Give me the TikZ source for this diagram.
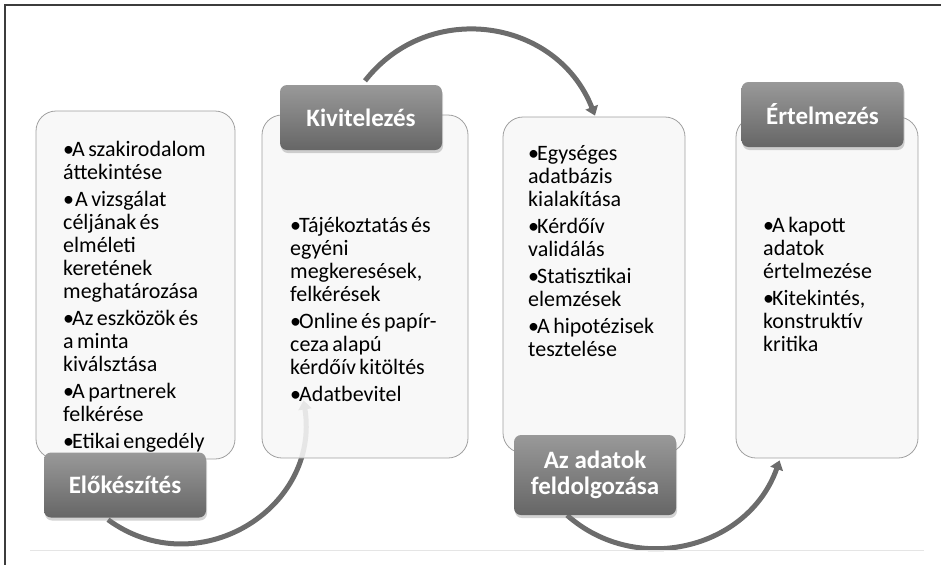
\documentclass[tikz,border=0pt]{standalone}
\usepackage{fontspec}
\setmainfont{Carlito}
\usepackage{tikz}
\usetikzlibrary{positioning,calc,arrows.meta,shadows,backgrounds}

\definecolor{arcgray}{RGB}{108,108,108}
\definecolor{boxline}{RGB}{160,160,160}
\definecolor{framegray}{RGB}{60,60,60}

\newcommand{\bitem}[1]{\hangindent=9pt\hangafter=1\noindent\makebox[9pt][l]{\textbullet}#1\par}
\newcommand{\itemfont}{\fontsize{22}{23}\selectfont\setlength{\parskip}{4pt}}

\tikzset{
  phasebox/.style={draw=boxline, line width=0.8pt, rounded corners=20pt, fill=black!3, fill opacity=0.88, inner sep=0pt},
  phasetitle/.style={rounded corners=7pt, top color=black!40, bottom color=black!60, text=white,
    font=\fontsize{25}{26}\selectfont\bfseries, minimum width=162pt, minimum height=65pt,
    inner sep=0pt, align=center, drop shadow={opacity=0.35, shadow xshift=1pt, shadow yshift=-3pt}},
  itemtext/.style={text width=180pt, inner sep=0pt, align=left, anchor=base west},
  flow/.style={draw=arcgray, line width=5pt, -{Triangle[length=9pt,width=13pt]}}
}

\begin{document}
\begin{tikzpicture}[x=1pt,y=-1pt]
  \useasboundingbox (0,0) rectangle (941,565);
  % frame and base line
  \draw[framegray, line width=1.2pt] (941,5) -- (5,5) -- (5,565);
  \draw[black!10, line width=1pt] (30,550) -- (924,550);

  % phase boxes
  \node[phasebox, minimum width=199pt, minimum height=348pt] (prepbox) at (135.5,285) {};
  \node[phasebox, minimum width=206pt, minimum height=343pt] (implbox) at (365,286.5) {};
  \node[phasebox, minimum width=182pt, minimum height=336pt] (procbox) at (594,285) {};
  \node[phasebox, minimum width=182pt, minimum height=341pt] (interpbox) at (827,287.5) {};

  % titles
  \node[phasetitle] (prep) at (125,485) {Előkészítés};
  \node[phasetitle] (impl) at (361,117.5) {Kivitelezés};
  \node[phasetitle, minimum height=80pt] (proc) at (595,475) {Az adatok\\feldolgozása};
  \node[phasetitle] (interp) at (822.5,114.5) {Értelmezés};

  % arc ends
  \coordinate (a1s) at ($(prep.south)+(-17,2)$);
  \coordinate (a1e) at ($(implbox.south west)+(42,-58)$);
  \coordinate (a2s) at ($(impl.north)+(4,-4)$);
  \coordinate (a2e) at ($(procbox.north)+(1,-1)$);
  \coordinate (a3s) at ($(proc.south)+(-28,0)$);
  \coordinate (a3e) at ($(interpbox.south west)+(44,2)$);

  % connectors behind the boxes
  \begin{scope}[on background layer]
    \draw[flow] (a1s) .. controls ($(a1s)+(89,65)$) and ($(a1e)+(17,109)$) .. (a1e);
    \draw[flow] (a2s) .. controls ($(a2s)+(64,-82)$) and ($(a2e)+(-38,-97)$) .. (a2e);
    \draw[flow] (a3s) .. controls ($(a3s)+(70,62)$) and ($(a3e)+(-31,88)$) .. (a3e);
  \end{scope}

  % item lists
  \node[itemtext] (prepitems) at (63,156) {\itemfont%
    \bitem{A szakirodalom\\áttekintése}%
    \bitem{\hspace{3pt}A vizsgálat\\céljának és\\elméleti\\keretének\\meghatározása}%
    \bitem{Az eszközök és\\a minta\\kiválsztása}%
    \bitem{A partnerek\\felkérése}%
    \bitem{Etikai engedély}};
  \node[itemtext] (implitems) at (290,232) {\itemfont%
    \bitem{Tájékoztatás és\\egyéni\\megkeresések,\\felkérések}%
    \bitem{Online és papír-\\ceza alapú\\kérdőív kitöltés}%
    \bitem{Adatbevitel}};
  \node[itemtext] (procitems) at (528,160) {\itemfont%
    \bitem{Egységes\\adatbázis\\kialakítása}%
    \bitem{Kérdőív\\validálás}%
    \bitem{Statisztikai\\elemzések}%
    \bitem{A hipotézisek\\tesztelése}};
  \node[itemtext] (interpitems) at (763,232) {\itemfont%
    \bitem{A kapott\\adatok\\értelmezése}%
    \bitem{Kitekintés,\\konstruktív\\kritika}};
\end{tikzpicture}
\end{document}
